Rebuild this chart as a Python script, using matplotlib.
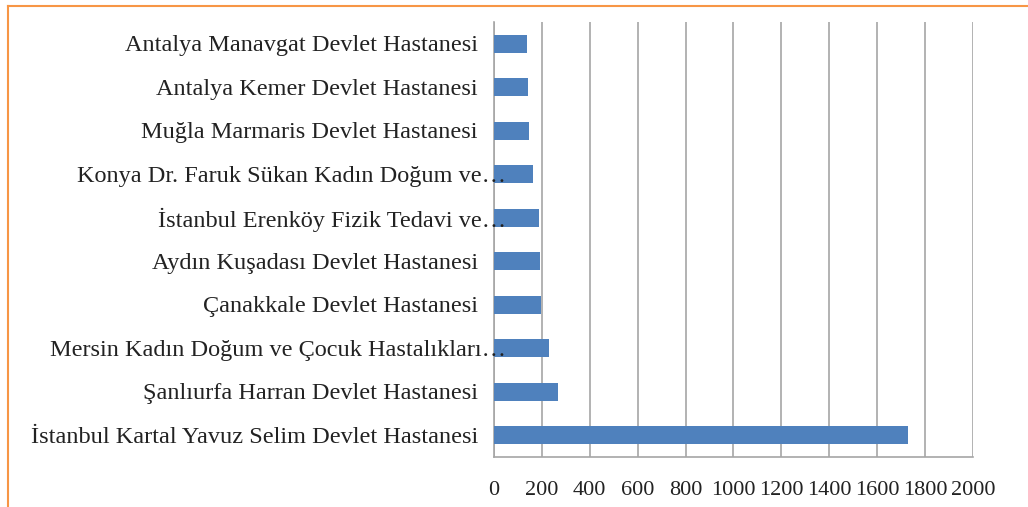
import matplotlib.pyplot as plt
from matplotlib.lines import Line2D
from matplotlib.transforms import ScaledTranslation, blended_transform_factory

plt.rcParams['font.family'] = ['Liberation Serif', 'DejaVu Serif']

hospitals = [
    "İstanbul Kartal Yavuz Selim Devlet Hastanesi",
    "Şanlıurfa Harran Devlet Hastanesi",
    "Mersin Kadın Doğum ve Çocuk Hastalıkları…",
    "Çanakkale Devlet Hastanesi",
    "Aydın Kuşadası Devlet Hastanesi",
    "İstanbul Erenköy Fizik Tedavi ve…",
    "Konya Dr. Faruk Sükan Kadın Doğum ve…",
    "Muğla Marmaris Devlet Hastanesi",
    "Antalya Kemer Devlet Hastanesi",
    "Antalya Manavgat Devlet Hastanesi",
]
counts = [1730, 268, 228, 196, 192, 188, 164, 148, 144, 140]
truncated = [2, 5, 6]
x_ticks = list(range(0, 2001, 200))

fig = plt.figure(figsize=(10.28, 5.07), dpi=100)
ax = fig.add_axes([0.4805, 0.0986, 0.466, 0.858])

ax.barh(range(len(hospitals)), counts, height=0.42, color='#4f81bd', zorder=3)

ax.set_xlim(0, 2000)
ax.set_ylim(-0.5, len(hospitals) - 0.5)
ax.set_xticks(x_ticks)
ax.set_xticklabels([str(t) for t in x_ticks], fontsize=16, color='#222222')
ax.set_yticks(range(len(hospitals)))
ax.set_yticklabels([])
ax.tick_params(axis='both', length=0)
ax.tick_params(axis='x', pad=17)

# category labels: full names end left of the axis, cut ones (with …) run past it
base = blended_transform_factory(ax.transAxes, ax.transData)
for i, name in enumerate(hospitals):
    dx = 0.12 if i in truncated else -0.16
    ax.text(0, i, name, transform=base + ScaledTranslation(dx, -0.02, fig.dpi_scale_trans),
            ha='right', va='center', fontsize=17.5, color='#222222')

ax.grid(axis='x', color='#a6a6a6', linewidth=1.2, zorder=0)
for side in ['top', 'right']:
    ax.spines[side].set_visible(False)
for side in ['left', 'bottom']:
    ax.spines[side].set_color('#a6a6a6')
    ax.spines[side].set_linewidth(1.2)

# orange frame, left and top edges
fig.add_artist(Line2D([0.0073, 0.0073], [0, 0.988], color='#f79646', linewidth=1.5))
fig.add_artist(Line2D([0.0073, 1.0], [0.988, 0.988], color='#f79646', linewidth=1.5))

fig.savefig('out.png', dpi=100)
